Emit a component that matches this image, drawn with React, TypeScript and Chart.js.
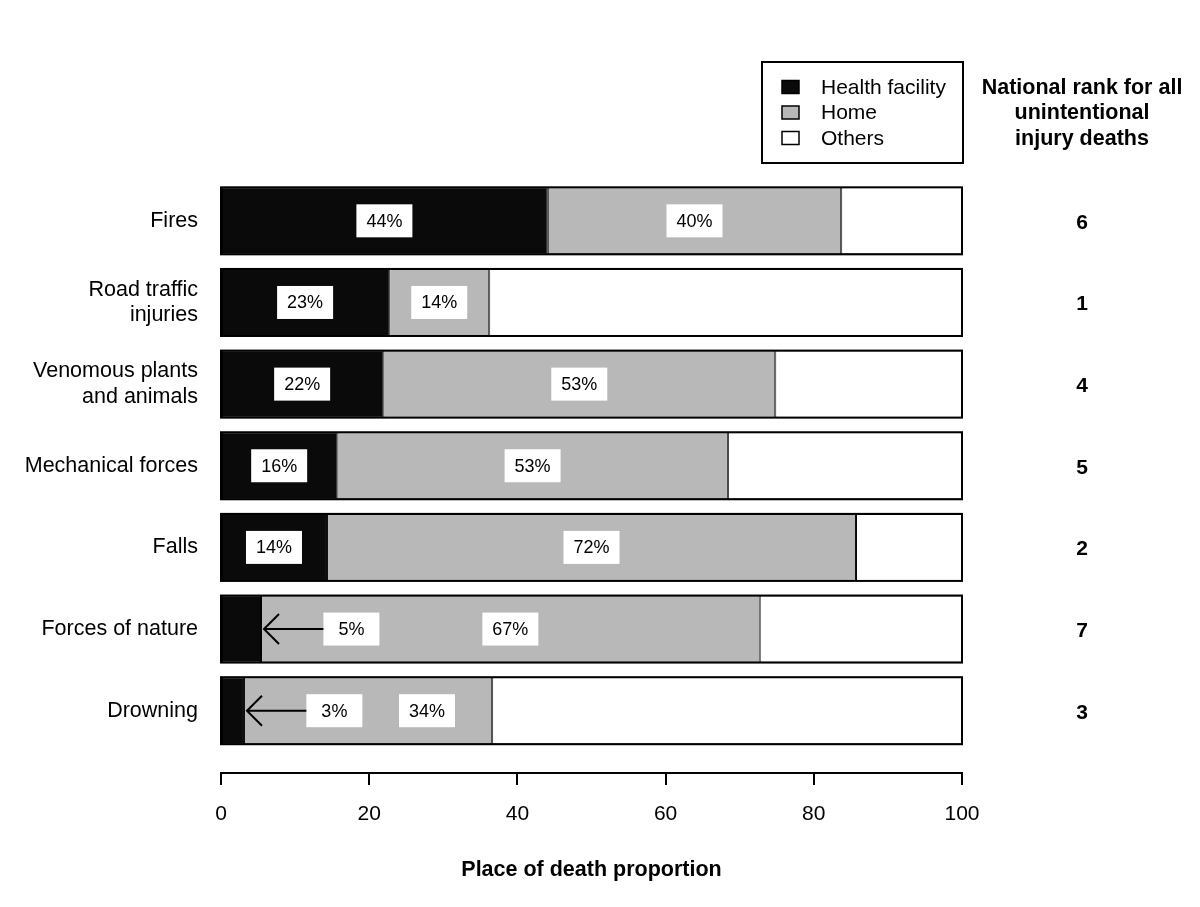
import React, { useEffect, useRef } from "react";
import { Chart, registerables } from "chart.js";

Chart.register(...registerables);

const categories = [
  "Fires",
  "Road traffic\ninjuries",
  "Venomous plants\nand animals",
  "Mechanical forces",
  "Falls",
  "Forces of nature",
  "Drowning",
];
const healthFacility = [44.1, 22.7, 21.9, 15.7, 14.3, 5.4, 3.1];
const home = [39.6, 13.5, 52.9, 52.7, 71.4, 67.3, 33.5];
const others = [16.3, 63.8, 25.2, 31.6, 14.3, 27.3, 63.4];
const healthLabels = [44, 23, 22, 16, 14, 5, 3];
const homeLabels = [40, 14, 53, 53, 72, 67, 34];
const nationalRank = [6, 1, 4, 5, 2, 7, 3];
const xTicks = [0, 20, 40, 60, 80, 100];
const seriesNames = ["Health facility", "Home", "Others"];
const rankTitle = ["National rank for all", "unintentional", "injury deaths"];
const xTitle = "Place of death proportion";

const FONT = '"Liberation Sans", Arial, Helvetica, sans-serif';
const BLACK = "#0a0a0a";
const GRAY = "#b8b8b8";
const WHITE = "#ffffff";

const overlayPlugin = {
  id: "overlay",
  afterDatasetsDraw(chart: any) {
    const { ctx, scales } = chart;
    const x = scales.x;
    const y = scales.y;
    const meta = chart.getDatasetMeta(0);
    const x0 = x.getPixelForValue(0);
    const x1 = x.getPixelForValue(100);
    ctx.save();

    // outline each full bar
    meta.data.forEach((bar: any, i: number) => {
      const { height } = bar.getProps(["height"], true);
      const cy = y.getPixelForValue(i);
      ctx.lineWidth = 2;
      ctx.strokeStyle = "#000";
      ctx.strokeRect(x0, cy - height / 2, x1 - x0, height);
    });

    // value labels
    const boxW = 56;
    const boxH = 33;
    const drawLabel = (px: number, cy: number, text: string) => {
      ctx.fillStyle = WHITE;
      ctx.fillRect(px - boxW / 2, cy - boxH / 2, boxW, boxH);
      ctx.fillStyle = "#000";
      ctx.font = `18px ${FONT}`;
      ctx.textAlign = "center";
      ctx.textBaseline = "middle";
      ctx.fillText(text, px, cy + 1);
    };
    healthFacility.forEach((h, i) => {
      const hm = home[i];
      const cy = y.getPixelForValue(i);
      const small = h < 10;
      const hLabelX = small ? h + 12.2 : h / 2;
      const homeLabelX = small ? Math.max(h + hm / 2, hLabelX + 12.5) : h + hm / 2;
      const hpx = x.getPixelForValue(hLabelX);
      drawLabel(hpx, cy, `${healthLabels[i]}%`);
      drawLabel(x.getPixelForValue(homeLabelX), cy, `${homeLabels[i]}%`);
      if (small) {
        const tip = x.getPixelForValue(h) + 3;
        const start = hpx - boxW / 2;
        ctx.strokeStyle = "#000";
        ctx.lineWidth = 2;
        ctx.beginPath();
        ctx.moveTo(start, cy);
        ctx.lineTo(tip, cy);
        ctx.moveTo(tip + 15, cy - 15);
        ctx.lineTo(tip, cy);
        ctx.lineTo(tip + 15, cy + 15);
        ctx.stroke();
      }
    });

    // national rank column
    const rankX = 1082;
    ctx.fillStyle = "#000";
    ctx.textAlign = "center";
    ctx.textBaseline = "middle";
    ctx.font = `bold 21px ${FONT}`;
    nationalRank.forEach((r, i) => {
      ctx.fillText(String(r), rankX, y.getPixelForValue(i) + 2);
    });
    const top = chart.chartArea.top;
    ctx.font = `bold 21.5px ${FONT}`;
    rankTitle.forEach((line, k) => {
      ctx.fillText(line, rankX, top - 92 + k * 25.5);
    });

    // legend
    const lx0 = x1 - 200;
    const ly0 = top - 118;
    ctx.lineWidth = 2;
    ctx.strokeStyle = "#000";
    ctx.strokeRect(lx0, ly0, 201, 101);
    chart.data.datasets.forEach((ds: any, k: number) => {
      const cy = ly0 + 25 + k * 25.5;
      ctx.fillStyle = ds.backgroundColor;
      ctx.fillRect(lx0 + 20, cy - 6.5, 17, 13);
      ctx.lineWidth = 1.5;
      ctx.strokeRect(lx0 + 20, cy - 6.5, 17, 13);
      ctx.fillStyle = "#000";
      ctx.font = `21px ${FONT}`;
      ctx.textAlign = "left";
      ctx.textBaseline = "middle";
      ctx.fillText(ds.label, lx0 + 59, cy + 1);
    });
    ctx.restore();
  },
};

export default function App() {
  const ref = useRef<HTMLCanvasElement | null>(null);
  useEffect(() => {
    if (!ref.current) return;
    const mk = (vals: number[]) => vals.map((v, i) => ({ x: v, y: i }));
    const common = {
      borderColor: "#000",
      borderWidth: 1,
      borderSkipped: false,
      barPercentage: 0.821,
      categoryPercentage: 1,
    };
    const chart = new Chart(ref.current, {
      type: "bar",
      data: {
        datasets: [
          { label: seriesNames[0], data: mk(healthFacility), backgroundColor: BLACK, ...common },
          { label: seriesNames[1], data: mk(home), backgroundColor: GRAY, ...common },
          { label: seriesNames[2], data: mk(others), backgroundColor: WHITE, ...common },
        ],
      } as any,
      options: {
        indexAxis: "y",
        responsive: false,
        animation: false,
        layout: { padding: { top: 180, right: 238, left: 0, bottom: 0 } },
        plugins: { legend: { display: false }, tooltip: { enabled: false } },
        scales: {
          x: {
            type: "linear",
            stacked: true,
            min: 0,
            max: 100,
            offset: false,
            afterBuildTicks: (scale: any) => {
              scale.ticks = xTicks.map((v) => ({ value: v }));
            },
            afterFit: (scale: any) => {
              scale.height = 134;
            },
            ticks: {
              color: "#000",
              font: { family: FONT, size: 21 },
              padding: 17,
              maxRotation: 0,
            },
            grid: {
              display: true,
              offset: false,
              drawOnChartArea: false,
              drawTicks: true,
              tickLength: 12,
              color: "#000",
              lineWidth: 2,
            },
            border: { display: true, color: "#000", width: 2 },
            title: {
              display: true,
              text: xTitle,
              color: "#000",
              font: { family: FONT, size: 21.5, weight: "bold" },
              padding: { top: 0, bottom: 24 },
            },
          },
          y: {
            type: "linear",
            stacked: true,
            reverse: true,
            offset: false,
            min: -0.5,
            max: 6.763,
            afterBuildTicks: (scale: any) => {
              scale.ticks = categories.map((_, i) => ({ value: i }));
            },
            afterFit: (scale: any) => {
              scale.width = 221;
            },
            ticks: {
              color: "#000",
              font: { family: FONT, size: 21.5, lineHeight: 1.17 },
              padding: 15,
              callback: (v: any) => {
                const i = Number(v);
                return Number.isInteger(i) && categories[i] ? categories[i].split("\n") : "";
              },
            },
            grid: { display: false, offset: false },
            border: { display: false },
          },
        },
      } as any,
      plugins: [overlayPlugin],
    });
    return () => chart.destroy();
  }, []);
  return (
    <div style={{ position: "absolute", left: 0, top: 0, width: 1200, height: 907, background: "#fff" }}>
      <canvas ref={ref} width={1200} height={907} style={{ width: 1200, height: 907 }} />
    </div>
  );
}
